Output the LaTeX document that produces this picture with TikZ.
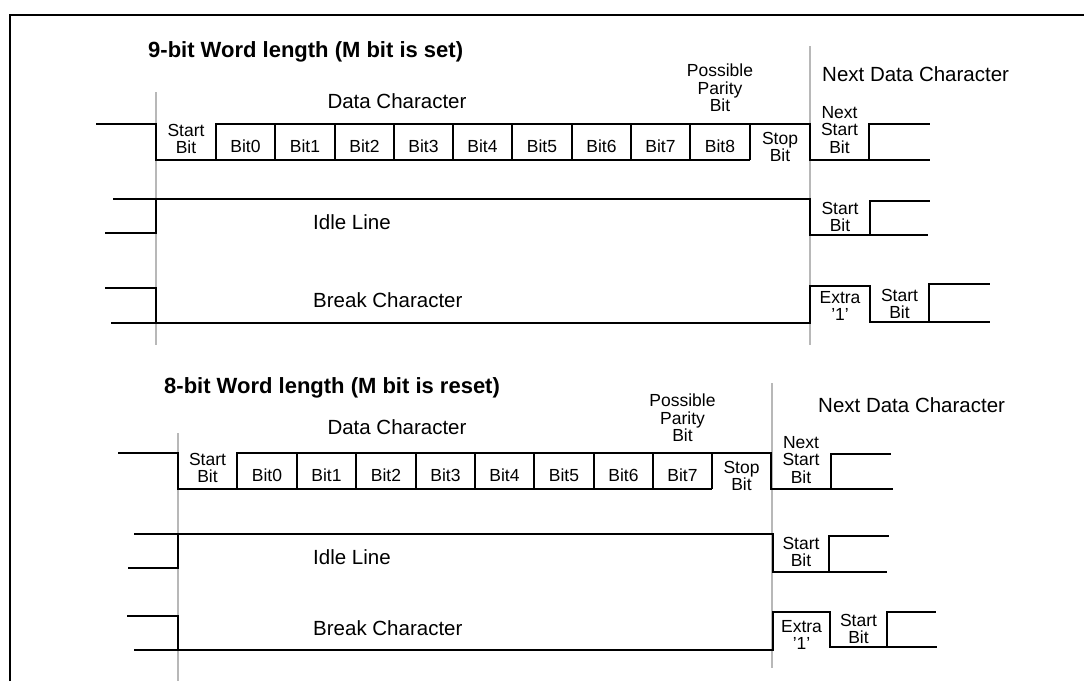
\documentclass[tikz,border=0pt]{standalone}
\usepackage{fontspec}
\setmainfont{Liberation Sans}
\begin{document}
\begin{tikzpicture}[x=1pt,y=-1pt,
  sig/.style={line width=2.1pt},
  guide/.style={draw=black!28, line width=1.4pt},
  lbl/.style={inner sep=0pt, align=center, font=\fontsize{17.5}{17.5}\selectfont},
  big/.style={inner sep=0pt, anchor=west, font=\fontsize{20.5}{24}\selectfont},
  ttl/.style={inner sep=0pt, anchor=west, font=\bfseries\fontsize{22}{26}\selectfont}]
\useasboundingbox (0,0) rectangle (1084,681);
% frame
\draw[line width=2.4pt] (10,681) -- (10,15) -- (1084,15);

% ===== Section 1 : 9-bit =====
\draw[guide] (156,92) -- (156,345);
\draw[guide] (810,46) -- (810,345);
\node[ttl] (t1) at (148,52) {9-bit Word length (M bit is set)};
\node[big, anchor=center] (dc1) at (397,101) {Data Character};
\node[lbl] (par1) at (720,88) {Possible\\Parity\\Bit};
\node[big] (ndc1) at (822,74) {Next Data Character};
% data row
\draw[sig] (96,124) -- (156,124) -- (156,160) -- (750,160);
\draw[sig] (216,160) -- (216,124) -- (810,124) -- (810,160) -- (930,160);
\foreach \x in {275,335,394,453,512,572,631,690,750} \draw[sig] (\x,124) -- (\x,160);
\draw[sig] (869,160) -- (869,124) -- (930,124);
\node[lbl] (s1) at (186,139) {Start\\Bit};
\foreach \i/\x in {0/245.5,1/305,2/364.5,3/423.5,4/482.5,5/542,6/601.5,7/660.5,8/720}
  \node[lbl] (a\i) at (\x,146) {Bit\i};
\node[lbl] (stop1) at (780,147) {Stop\\Bit};
\node[lbl] (ns1) at (839.5,130) {Next\\Start\\Bit};
% idle row
\draw[sig] (105,233) -- (156,233) -- (156,199);
\draw[sig] (113,199) -- (810,199) -- (810,235) -- (928,235);
\draw[sig] (870,235) -- (870,201) -- (930,201);
\node[big] (idle1) at (313,222) {Idle Line};
\node[lbl] (is1) at (840,217) {Start\\Bit};
% break row
\draw[sig] (105,288) -- (156,288) -- (156,323);
\draw[sig] (111,323) -- (810,323) -- (810,286) -- (870,286) -- (870,322) -- (990,322);
\draw[sig] (929,322) -- (929,284) -- (990,284);
\node[big] (brk1) at (313,300) {Break Character};
\node[lbl] (ex1) at (840,306) {Extra\\'1'};
\node[lbl] (bs1) at (899.5,304) {Start\\Bit};

% ===== Section 2 : 8-bit =====
\draw[guide] (178,433) -- (178,681);
\draw[guide] (772,383) -- (772,668);
\node[ttl] (t2) at (164,388) {8-bit Word length (M bit is reset)};
\node[big, anchor=center] (dc2) at (397,427) {Data Character};
\node[lbl] (par2) at (682.5,418) {Possible\\Parity\\Bit};
\node[big] (ndc2) at (818,405) {Next Data Character};
% data row
\draw[sig] (118,453) -- (178,453) -- (178,489) -- (712,489);
\draw[sig] (237,489) -- (237,453) -- (771,453) -- (771,489) -- (893,489);
\foreach \x in {297,356,416,475,534,594,653,712} \draw[sig] (\x,453) -- (\x,489);
\draw[sig] (831,489) -- (831,454) -- (891,454);
\node[lbl] (s2) at (207.5,468) {Start\\Bit};
\foreach \i/\x in {0/267,1/326.5,2/386,3/445.5,4/504.5,5/564,6/623.5,7/682.5}
  \node[lbl] (c\i) at (\x,475) {Bit\i};
\node[lbl] (stop2) at (741.5,476) {Stop\\Bit};
\node[lbl] (ns2) at (801,460) {Next\\Start\\Bit};
% idle row
\draw[sig] (128,568) -- (178,568) -- (178,534);
\draw[sig] (134,534) -- (773,534) -- (773,572) -- (887,572);
\draw[sig] (829,572) -- (829,536) -- (889,536);
\node[big] (idle2) at (313,557) {Idle Line};
\node[lbl] (is2) at (801,552) {Start\\Bit};
% break row
\draw[sig] (127,616) -- (178,616) -- (178,650);
\draw[sig] (134,650) -- (773,650) -- (773,612) -- (830,612) -- (830,647) -- (937,647);
\draw[sig] (887,647) -- (887,612) -- (936,612);
\node[big] (brk2) at (313,628) {Break Character};
\node[lbl] (ex2) at (801.5,635) {Extra\\'1'};
\node[lbl] (bs2) at (858.5,629) {Start\\Bit};
\end{tikzpicture}
\end{document}
